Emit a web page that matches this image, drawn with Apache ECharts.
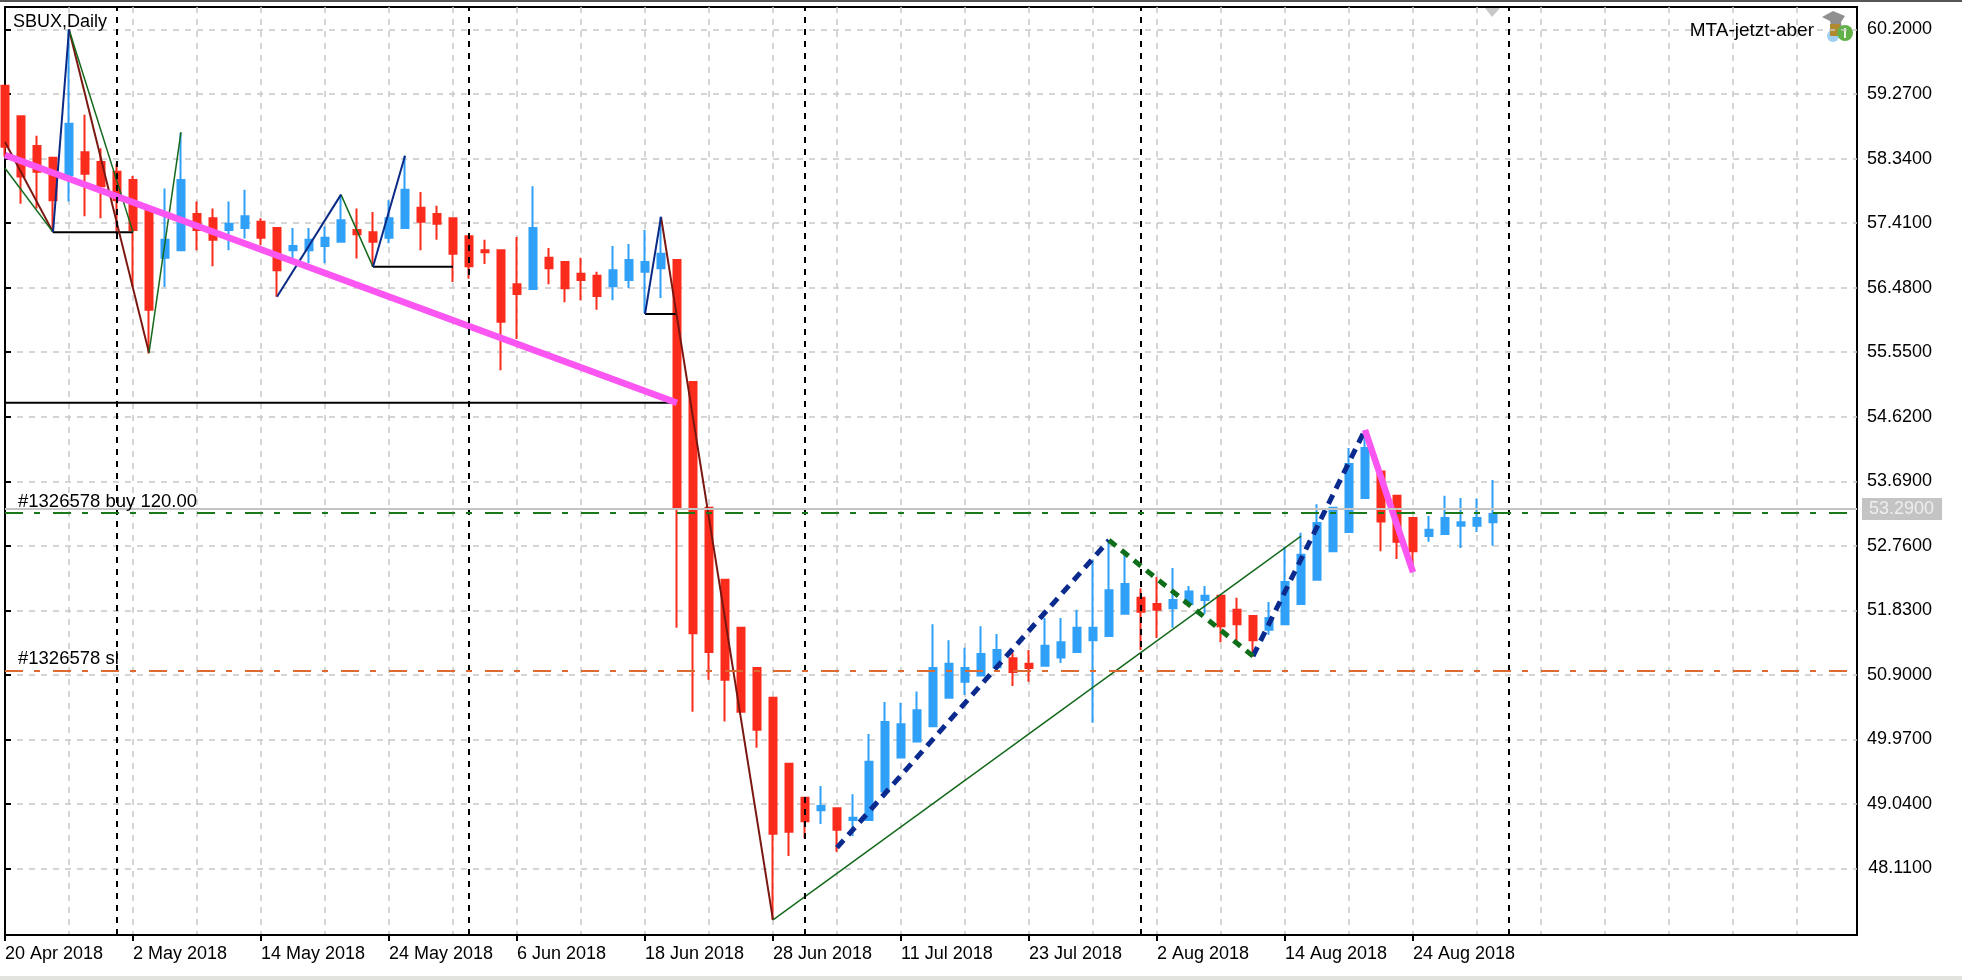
<!DOCTYPE html>
<html>
<head>
<meta charset="utf-8">
<title>SBUX,Daily</title>
<style>
  html, body { margin: 0; padding: 0; background: #fff; overflow: hidden; }
  #chart { position: absolute; left: 0; top: 0; width: 1962px; height: 980px; }
  .topStrip { position: absolute; left: 0; top: 0; width: 1962px; height: 2px; background: #555; }
  .bottomStrip { position: absolute; left: 0; top: 976px; width: 1962px; height: 4px; background: #e2e2de; }
</style>
<script src="https://cdn.jsdelivr.net/npm/echarts@6/dist/echarts.min.js"></script>
</head>
<body>
<div id="chart"></div>
<div class="topStrip"></div>
<div class="bottomStrip"></div>
<script>
// trading days, one per candle
const dates = [
  "20 Apr 2018", "23 Apr 2018", "24 Apr 2018", "25 Apr 2018", "26 Apr 2018", "27 Apr 2018", "30 Apr 2018", "1 May 2018",
  "2 May 2018", "3 May 2018", "4 May 2018", "7 May 2018", "8 May 2018", "9 May 2018", "10 May 2018", "11 May 2018",
  "14 May 2018", "15 May 2018", "16 May 2018", "17 May 2018", "18 May 2018", "21 May 2018", "22 May 2018", "23 May 2018",
  "24 May 2018", "25 May 2018", "29 May 2018", "30 May 2018", "31 May 2018", "1 Jun 2018", "4 Jun 2018", "5 Jun 2018",
  "6 Jun 2018", "7 Jun 2018", "8 Jun 2018", "11 Jun 2018", "12 Jun 2018", "13 Jun 2018", "14 Jun 2018", "15 Jun 2018",
  "18 Jun 2018", "19 Jun 2018", "20 Jun 2018", "21 Jun 2018", "22 Jun 2018", "25 Jun 2018", "26 Jun 2018", "27 Jun 2018",
  "28 Jun 2018", "29 Jun 2018", "2 Jul 2018", "3 Jul 2018", "5 Jul 2018", "6 Jul 2018", "9 Jul 2018", "10 Jul 2018",
  "11 Jul 2018", "12 Jul 2018", "13 Jul 2018", "16 Jul 2018", "17 Jul 2018", "18 Jul 2018", "19 Jul 2018", "20 Jul 2018",
  "23 Jul 2018", "24 Jul 2018", "25 Jul 2018", "26 Jul 2018", "27 Jul 2018", "30 Jul 2018", "31 Jul 2018", "1 Aug 2018",
  "2 Aug 2018", "3 Aug 2018", "6 Aug 2018", "7 Aug 2018", "8 Aug 2018", "9 Aug 2018", "10 Aug 2018", "13 Aug 2018",
  "14 Aug 2018", "15 Aug 2018", "16 Aug 2018", "17 Aug 2018", "20 Aug 2018", "21 Aug 2018", "22 Aug 2018", "23 Aug 2018",
  "24 Aug 2018", "27 Aug 2018", "28 Aug 2018", "29 Aug 2018", "30 Aug 2018", "31 Aug 2018"
];

const opens = [
  59.39, 58.95, 58.52, 58.35, 58.10, 58.43, 58.29, 58.15, 58.03, 57.62, 56.91, 57.02, 57.54, 57.48, 57.31, 57.34,
  57.43, 57.34, 57.02, 57.02, 57.08, 57.14, 57.31, 57.28, 57.20, 57.34, 57.63, 57.54, 57.48, 57.22, 57.02, 57.02,
  56.53, 56.46, 56.91, 56.85, 56.68, 56.65, 56.50, 56.59, 56.71, 56.76, 56.88, 55.12, 53.31, 52.27, 51.58, 51.00,
  50.57, 49.62, 49.13, 48.95, 48.98, 48.81, 48.81, 49.22, 49.71, 49.94, 50.16, 50.57, 50.80, 50.89, 51.01, 51.14,
  51.06, 51.03, 51.15, 51.23, 51.40, 51.46, 51.78, 52.01, 51.92, 51.86, 51.92, 51.98, 52.04, 51.84, 51.75, 51.55,
  51.63, 51.92, 52.27, 52.68, 52.96, 53.45, 53.83, 53.48, 53.16, 52.90, 52.93, 53.05, 53.05, 53.10
];
const closes = [
  58.51, 58.08, 58.15, 57.74, 58.84, 58.12, 57.94, 57.74, 57.31, 56.16, 57.17, 58.03, 57.31, 57.17, 57.40, 57.51,
  57.20, 56.73, 57.08, 57.17, 57.20, 57.45, 57.25, 57.14, 57.48, 57.89, 57.43, 57.40, 56.97, 56.79, 56.99, 55.99,
  56.39, 57.34, 56.76, 56.47, 56.59, 56.36, 56.73, 56.88, 56.85, 56.97, 53.31, 51.50, 51.23, 50.83, 50.37, 50.11,
  48.61, 48.64, 48.79, 49.01, 48.67, 48.84, 49.65, 50.22, 50.19, 50.39, 51.00, 51.06, 51.00, 51.20, 51.26, 50.94,
  51.00, 51.32, 51.37, 51.58, 51.58, 52.12, 52.21, 51.81, 51.84, 51.98, 52.10, 52.04, 51.60, 51.63, 51.40, 51.72,
  52.24, 52.63, 53.09, 53.31, 53.94, 54.17, 53.11, 52.82, 52.68, 52.99, 53.16, 53.10, 53.16, 53.22
];
const lows = [
  58.37, 57.69, 57.62, 57.31, 57.72, 57.51, 57.48, 57.26, 56.49, 55.53, 56.49, 57.02, 57.02, 56.79, 57.02, 57.19,
  57.09, 56.35, 56.88, 56.83, 56.83, 57.14, 56.90, 56.78, 57.12, 57.34, 57.02, 57.17, 56.56, 56.61, 56.82, 55.29,
  55.74, 56.46, 56.53, 56.27, 56.30, 56.16, 56.30, 56.47, 56.11, 56.33, 51.58, 50.37, 50.83, 50.23, 50.37, 49.85,
  47.37, 48.29, 48.55, 48.75, 48.35, 48.58, 48.81, 49.22, 49.71, 49.94, 50.16, 50.57, 50.61, 50.89, 51.01, 50.74,
  50.80, 51.03, 51.07, 51.23, 50.21, 51.46, 51.78, 51.26, 51.43, 51.58, 51.92, 51.78, 51.37, 51.37, 51.16, 51.48,
  51.63, 51.92, 52.27, 52.68, 52.96, 53.45, 52.68, 52.57, 52.40, 52.82, 52.93, 52.73, 52.96, 52.76
];
const highs = [
  59.39, 58.95, 58.67, 58.35, 60.19, 58.97, 58.49, 58.27, 58.09, 57.62, 57.91, 58.71, 57.72, 57.62, 57.72, 57.89,
  57.48, 57.34, 57.34, 57.34, 57.36, 57.82, 57.62, 57.57, 57.74, 58.38, 57.86, 57.66, 57.48, 57.22, 57.17, 57.02,
  57.21, 57.94, 57.05, 56.85, 56.91, 56.71, 57.08, 57.11, 57.31, 57.50, 56.88, 55.12, 53.31, 52.27, 51.58, 51.00,
  50.57, 49.62, 49.13, 49.30, 48.98, 49.18, 50.05, 50.51, 50.50, 50.66, 51.63, 51.40, 51.29, 51.60, 51.49, 51.22,
  51.26, 51.72, 51.72, 51.84, 52.56, 52.84, 52.63, 52.15, 52.31, 52.44, 52.18, 52.18, 52.04, 52.01, 51.75, 51.95,
  52.75, 52.95, 53.36, 53.31, 54.17, 54.43, 53.83, 53.48, 53.16, 53.19, 53.48, 53.45, 53.44, 53.71
];

const priceTicks = [60.2, 59.27, 58.34, 57.41, 56.48, 55.55, 54.62, 53.69, 52.76, 51.83, 50.9, 49.97, 49.04, 48.11];
const dateTicks = [0, 8, 16, 24, 32, 40, 48, 56, 64, 72, 80, 88];
const monthBreaks = [7, 29, 50, 71, 94];

const bidPrice = 53.29;
const buyLevel = 53.233;
const stopLevel = 50.956;

// zigzag legs, each leg is [[candle index, price], ...]
const maroonLegs = [[[0, 58.58], [3, 57.28]], [[4, 60.2], [9, 55.54]], [[41, 57.5], [48, 47.37]]];
const greenLegs = [[[0, 58.2], [3, 57.28]], [[4, 60.2], [8, 57.28]], [[9, 55.54], [11, 58.72]], [[21, 57.82], [23, 56.78]], [[48, 47.37], [81, 52.9]]];
const navyLegs = [[[3, 57.28], [4, 60.2]], [[17, 56.35], [21, 57.82]], [[23, 56.78], [25, 58.38]], [[40, 56.1], [41, 57.5]]];
const blackLegs = [[[0, 54.82], [42, 54.82]], [[3, 57.28], [8, 57.28]], [[23, 56.78], [28, 56.78]], [[40, 56.1], [42, 56.1]]];
const magentaLegs = [[[0, 58.39], [42, 54.82]], [[85, 54.43], [88, 52.38]]];
const navyDottedLegs = [[[52, 48.41], [69, 52.84]], [[78, 51.17], [85, 54.43]]];
const greenDottedLegs = [[[69, 52.84], [78, 51.17]]];

const fontName = '"Liberation Sans", Arial, sans-serif';

function legSeries(legs, color, width, type) {
  return legs.map((leg) => ({
    type: "line",
    data: leg,
    z: 3,
    symbol: "none",
    silent: true,
    lineStyle: { color: color, width: width, type: type || "solid", cap: "butt" },
  }));
}

let myChart = echarts.init(document.getElementById("chart"));
myChart.setOption({
  animation: false,
  backgroundColor: "#fff",
  title: [
    { text: "SBUX,Daily", left: 13, top: 13, padding: 0, textStyle: { color: "#000", fontFamily: fontName, fontSize: 18, fontWeight: "normal" } },
    { text: "MTA-jetzt-aber", right: 148, top: 21, padding: 0, textStyle: { color: "#000", fontFamily: fontName, fontSize: 19, fontWeight: "normal" } },
  ],
  grid: { left: 5, right: 105, top: 7, bottom: 45, show: true, borderColor: "#000", borderWidth: 2, backgroundColor: "#fff" },
  xAxis: [
    {
      type: "value",
      position: "bottom",
      min: 0,
      max: 115.75,
      interval: 8,
      axisLine: { show: true, lineStyle: { color: "#000", width: 2 } },
      axisTick: { show: true, length: 6, customValues: dateTicks, lineStyle: { color: "#000", width: 2 } },
      axisLabel: {
        customValues: dateTicks,
        align: "left",
        margin: 10,
        color: "#000",
        fontFamily: fontName,
        fontSize: 18,
        formatter: (v) => dates[v] || "",
      },
      splitLine: { show: false },
    },
    {
      // only there for the vertical grid, one line every 4 candles
      type: "value",
      position: "top",
      min: 0,
      max: 115.75,
      interval: 4,
      axisLine: { show: false },
      axisTick: { show: false },
      axisLabel: { show: false },
      splitLine: { show: true, showMinLine: false, showMaxLine: false, lineStyle: { color: "#c8c8c8", width: 1.5, type: [6, 6] } },
    },
  ],
  yAxis: {
    type: "value",
    position: "right",
    min: 47.152,
    max: 60.524,
    axisLine: { show: true, lineStyle: { color: "#000", width: 2 } },
    axisTick: { show: true, length: 6, customValues: priceTicks, lineStyle: { color: "#000", width: 2 } },
    axisLabel: {
      customValues: priceTicks,
      align: "right",
      margin: 75,
      color: "#000",
      fontFamily: fontName,
      fontSize: 18,
      formatter: (v) => v.toFixed(4),
    },
    splitLine: { show: true, lineStyle: { color: "#c8c8c8", width: 1.5, type: [6, 6] } },
  },
  series: [
    {
      // month separators and order levels sit under the candles
      type: "line",
      data: [],
      z: 1,
      markLine: {
        silent: true,
        symbol: "none",
        animation: false,
        data: monthBreaks.map((m) => ({
          xAxis: m,
          label: { show: false },
          lineStyle: { color: "#000", width: 2, type: [6, 6] },
        })).concat([
          {
            yAxis: bidPrice,
            lineStyle: { color: "#c4c4c4", width: 2, type: "solid" },
            label: {
              show: true,
              position: "end",
              distance: 5,
              formatter: bidPrice.toFixed(4),
              color: "#eeeeee",
              backgroundColor: "#c4c4c4",
              padding: [2, 8, 2, 7],
              fontFamily: fontName,
              fontSize: 18,
            },
          },
          {
            yAxis: buyLevel,
            lineStyle: { color: "#1a7a1a", width: 2, type: [18, 11, 6, 13] },
            label: { show: true, position: "insideStartTop", distance: 2, padding: [0, 0, 0, 11], formatter: "#1326578 buy 120.00", color: "#000", fontFamily: fontName, fontSize: 18.5 },
          },
          {
            yAxis: stopLevel,
            lineStyle: { color: "#db6b30", width: 2, type: [18, 11, 6, 13] },
            label: { show: true, position: "insideStartTop", distance: 2, padding: [0, 0, 0, 11], formatter: "#1326578 sl", color: "#000", fontFamily: fontName, fontSize: 18.5 },
          },
        ]),
      },
    },
    {
      type: "candlestick",
      z: 2,
      silent: true,
      barWidth: 8,
      data: dates.map((d, i) => [i, opens[i], closes[i], lows[i], highs[i]]),
      encode: { x: 0, y: [1, 2, 3, 4] },
      itemStyle: {
        color: "#31a0f8",
        borderColor: "#31a0f8",
        color0: "#fb2c1c",
        borderColor0: "#fb2c1c",
        borderWidth: 2,
      },
    },
  ].concat(
    legSeries(blackLegs, "#000", 2),
    legSeries(maroonLegs, "#7a1710", 2),
    legSeries(greenLegs, "#14691c", 1.5),
    legSeries(navyLegs, "#0b2a86", 2),
    legSeries(navyDottedLegs, "#0b2a8e", 5, [10, 7]),
    legSeries(greenDottedLegs, "#0f6e1a", 5, [9, 7]),
    legSeries(magentaLegs, "#fb55f2", 6.5)
  ),
  graphic: [
    // shift marker at the top edge of the chart
    { type: "polygon", shape: { points: [[1485, 8], [1500, 8], [1492, 17]] }, style: { fill: "#c8c8c8" } },
    // little MTA icon beside the expert name
    { type: "polygon", shape: { points: [[1822, 17], [1833, 11], [1845, 16], [1841, 22], [1842, 30], [1832, 30], [1830, 21]] }, style: { fill: "#8f8f8f" } },
    { type: "circle", shape: { cx: 1833, cy: 36, r: 6 }, style: { fill: "#9fd0f2" } },
    { type: "polygon", shape: { points: [[1830, 24], [1840, 24], [1840, 36], [1830, 36]] }, style: { fill: "#b08a2e" } },
    { type: "circle", shape: { cx: 1845, cy: 33, r: 8 }, style: { fill: "#62b048" } },
    { type: "rect", shape: { x: 1844, y: 28, width: 2, height: 10 }, style: { fill: "#e8f5e0" } },
  ],
});
</script>
</body>
</html>
